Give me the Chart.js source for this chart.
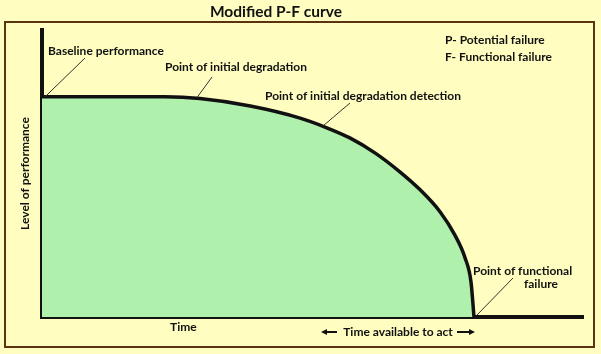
<!DOCTYPE html>
<html>
<head>
<meta charset="utf-8">
<script src="https://cdn.jsdelivr.net/npm/chart.js@4.4.0/dist/chart.umd.min.js"></script>
<style>
    html, body { margin: 0; padding: 0; background: #FFFDC0; }
    #wrap { width: 601px; height: 354px; }
</style>
</head>
<body>
<div id="wrap"><canvas id="pf"></canvas></div>
<script>
// Curve (time 0-100, performance 0-100)
const timeValues = [0, 10.7, 22.7, 29.2, 38.5, 47.7, 52.3, 56.9, 61.6, 66.2, 69.9, 73.6, 76.3, 78.2, 79.3, 79.85];
const performanceValues = [76.7, 76.7, 76.7, 76.1, 73.5, 69.3, 66.2, 62.4, 57.1, 50.5, 44.3, 36.6, 28.6, 20.6, 12.2, 0];

const chartTitle = 'Modified P-F curve';
const yAxisTitle = 'Level of performance';
const xAxisTitle = 'Time';
const legendLines = ['P- Potential failure', 'F- Functional failure'];

const labelFont = 'bold 12px Lato';
const ink = '#111';

// Background, frame and annotations
const pfDecor = {
    id: 'pfDecor',
    beforeDraw(chart) {
        const ctx = chart.ctx;
        ctx.save();
        ctx.fillStyle = '#FFFDC0';
        ctx.fillRect(0, 0, chart.width, chart.height);
        ctx.strokeStyle = '#5C3310';
        ctx.lineWidth = 2;
        ctx.strokeRect(5, 22, 589, 325);
        ctx.restore();
    },
    afterDraw(chart) {
        const ctx = chart.ctx;
        const x = chart.scales.x, y = chart.scales.y;
        const px = v => x.getPixelForValue(v);
        const py = v => y.getPixelForValue(v);

        ctx.save();
        ctx.fillStyle = ink;
        ctx.textBaseline = 'middle';

        ctx.font = 'bold 15.5px Lato';
        ctx.textAlign = 'center';
        ctx.fillText(chartTitle, 276, 12);

        ctx.font = labelFont;
        ctx.textAlign = 'left';
        ctx.fillText('Baseline performance', 48, 51);
        ctx.fillText('Point of initial degradation', 165, 67);
        ctx.fillText('Point of initial degradation detection', 265, 96);
        ctx.fillText('Point of functional', 473, 271);
        ctx.fillText('failure', 524, 284);
        ctx.fillText(legendLines[0], 445, 40);
        ctx.fillText(legendLines[1], 445, 57);
        ctx.fillText(xAxisTitle, 170, 327);

        ctx.textAlign = 'center';
        ctx.fillText('Time available to act', 398, 332);

        // leader lines, from the curve out to their labels
        ctx.strokeStyle = '#333';
        ctx.lineWidth = 1;
        const last = timeValues.length - 1;
        const leaders = [
            [px(timeValues[0]) + 3, py(performanceValues[0]), 85, 58],
            [px(timeValues[3]) - 3, py(performanceValues[3]) - 1, 212, 77],
            [px(timeValues[6]) - 2, py(performanceValues[6]) - 1, 350, 103],
            [px(timeValues[last]) + 3, py(0) - 2, 513, 278]
        ];
        leaders.forEach(l => {
            ctx.beginPath();
            ctx.moveTo(l[0], l[1]);
            ctx.lineTo(l[2], l[3]);
            ctx.stroke();
        });

        // arrows round "Time available to act"
        const arrow = (from, to) => {
            ctx.lineWidth = 2;
            ctx.strokeStyle = ink;
            ctx.beginPath();
            ctx.moveTo(from, 332);
            ctx.lineTo(to, 332);
            ctx.stroke();
            const d = Math.sign(to - from);
            ctx.beginPath();
            ctx.moveTo(to + d * 2, 332);
            ctx.lineTo(to - d * 4, 329);
            ctx.lineTo(to - d * 4, 335);
            ctx.closePath();
            ctx.fill();
        };
        arrow(337, 323);
        arrow(457, 473);
        ctx.restore();
    }
};

new Chart(document.getElementById('pf'), {
    type: 'line',
    data: {
        datasets: [{
            data: timeValues.map((t, i) => ({ x: t, y: performanceValues[i] })),
            borderColor: '#111',
            borderWidth: 3.5,
            backgroundColor: '#AFF0AC',
            fill: 'origin',
            pointRadius: 0,
            cubicInterpolationMode: 'monotone'
        }]
    },
    options: {
        responsive: true,
        maintainAspectRatio: false,
        animation: false,
        layout: { padding: { left: 0, right: 18, top: 30, bottom: 37 } },
        plugins: {
            legend: { display: false },
            tooltip: { enabled: false }
        },
        scales: {
            x: {
                type: 'linear',
                min: 0,
                max: 100,
                grid: { display: false },
                ticks: { display: false },
                border: { color: '#111', width: 4 },
                afterFit: s => { s.height = 0; }
            },
            y: {
                min: 0,
                max: 100,
                grid: { display: false },
                ticks: { display: false },
                border: { color: '#111', width: 4 },
                title: {
                    display: true,
                    text: yAxisTitle,
                    color: ink,
                    font: { family: 'Lato', size: 12, weight: 'bold' },
                    padding: { top: 18, bottom: 0 }
                },
                afterFit: s => { s.width = 42; }
            }
        }
    },
    plugins: [pfDecor]
});
</script>
</body>
</html>
